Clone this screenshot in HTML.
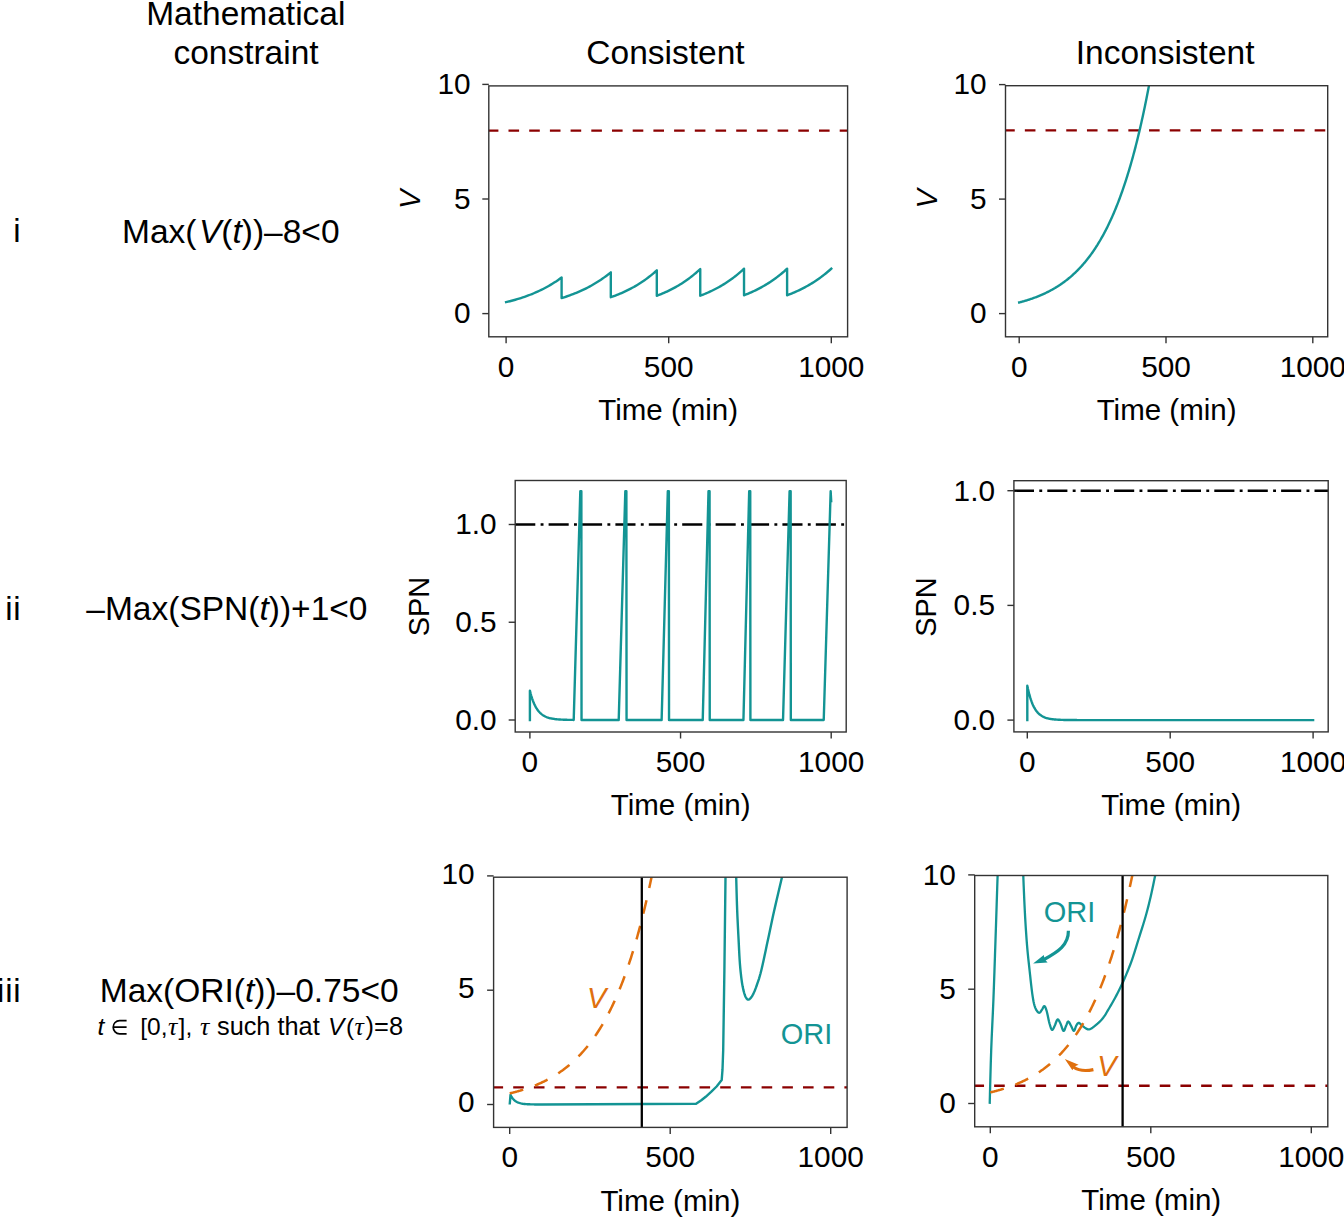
<!DOCTYPE html>
<html><head><meta charset="utf-8"><title>Figure</title>
<style>
html,body{margin:0;padding:0;background:#fff;}
body{width:1344px;height:1217px;overflow:hidden;font-family:"Liberation Sans", sans-serif;}
svg{display:block;}
</style></head><body>
<svg width="1344" height="1217" viewBox="0 0 1344 1217" font-family="'Liberation Sans', sans-serif"><defs><clipPath id="cA"><rect x="488.8" y="85.9" width="358.8" height="250.9"/></clipPath><clipPath id="cB"><rect x="1005.5" y="85.7" width="322.2" height="251.1"/></clipPath><clipPath id="cC"><rect x="515.2" y="480.5" width="331" height="251.5"/></clipPath><clipPath id="cD"><rect x="1013.9" y="480.7" width="314.3" height="251.2"/></clipPath><clipPath id="cE"><rect x="493.6" y="877.2" width="353.5" height="250.2"/></clipPath><clipPath id="cF"><rect x="974.7" y="875.5" width="353.1" height="251.3"/></clipPath></defs><rect x="0" y="0" width="1344" height="1217" fill="#fff"/><text x="245.8" y="24.8" font-size="33.5" text-anchor="middle" fill="#000" >Mathematical</text>
<text x="246" y="64.2" font-size="33.5" text-anchor="middle" fill="#000" >constraint</text>
<text x="665.5" y="64.3" font-size="33.5" text-anchor="middle" fill="#000" >Consistent</text>
<text x="1165.1" y="64.4" font-size="33.5" text-anchor="middle" fill="#000" >Inconsistent</text>
<text x="20.6" y="242.4" font-size="33" text-anchor="end" fill="#000" >i</text>
<text x="21.4" y="620" font-size="33" text-anchor="end" fill="#000" letter-spacing="0.8">ii</text>
<text x="21.4" y="1001.5" font-size="33" text-anchor="end" fill="#000" letter-spacing="0.8">iii</text>
<text x="230.8" y="242.5" font-size="33.5" text-anchor="middle">Max(<tspan font-style="italic" dx="2.5">V</tspan>(<tspan font-style="italic">t</tspan>))–8&lt;0</text>
<text x="226.9" y="620" font-size="33.5" text-anchor="middle">–Max(SPN(<tspan font-style="italic">t</tspan>))+1&lt;0</text>
<text x="249.2" y="1001.5" font-size="33.5" text-anchor="middle">Max(ORI(<tspan font-style="italic">t</tspan>))–0.75&lt;0</text>
<text x="97.6" y="1034.8" font-size="24.5" font-style="italic">t</text>
<path d="M126.6,1020.6 H119.6 A6.4,6.6 0 0 0 119.6,1033.8 H126.6 M112.6,1027.2 H126.6" fill="none" stroke="#000" stroke-width="1.7"/>
<text x="140.3" y="1034.8" font-size="24.5">[0,</text>
<text x="168" y="1034.8" font-size="26" font-style="italic" font-family="Liberation Serif">τ</text>
<text x="178.6" y="1034.8" font-size="24.5">],</text>
<text x="199.9" y="1034.8" font-size="26" font-style="italic" font-family="Liberation Serif">τ</text>
<text x="217" y="1034.8" font-size="25.3">such that</text>
<text x="328" y="1034.8" font-size="24.5" font-style="italic">V</text>
<text x="346" y="1034.8" font-size="24.5">(</text>
<text x="354.4" y="1034.8" font-size="26" font-style="italic" font-family="Liberation Serif">τ</text>
<text x="365.6" y="1034.8" font-size="25.4">)=8</text>
<line x1="488.8" y1="130.64" x2="847.6" y2="130.64" stroke="#8b0000" stroke-width="2.3" stroke-dasharray="10.6 10.1" stroke-dashoffset="1.0"/>
<path d="M506.1,302.14 L507.95,301.69 L509.8,301.23 L511.65,300.75 L513.5,300.24 L515.35,299.72 L517.2,299.18 L519.05,298.62 L520.9,298.04 L522.75,297.43 L524.6,296.8 L526.45,296.14 L528.3,295.46 L530.16,294.75 L532.01,294.02 L533.86,293.25 L535.71,292.46 L537.56,291.64 L539.41,290.78 L541.26,289.89 L543.11,288.96 L544.96,288 L546.81,287 L548.66,285.97 L550.51,284.89 L552.36,283.77 L554.21,282.6 L556.06,281.4 L557.91,280.14 L559.76,278.83 L561.61,277.48 L561.61,298.08 L563.25,297.57 L564.89,297.04 L566.53,296.49 L568.17,295.92 L569.81,295.34 L571.45,294.73 L573.09,294.11 L574.73,293.46 L576.37,292.79 L578.01,292.1 L579.65,291.39 L581.29,290.66 L582.93,289.9 L584.57,289.11 L586.21,288.3 L587.85,287.46 L589.49,286.59 L591.13,285.7 L592.77,284.77 L594.41,283.82 L596.05,282.83 L597.69,281.81 L599.33,280.76 L600.97,279.67 L602.61,278.55 L604.25,277.39 L605.89,276.19 L607.53,274.95 L609.17,273.67 L610.81,272.34 L610.81,297.19 L612.35,296.65 L613.88,296.09 L615.41,295.52 L616.95,294.93 L618.48,294.31 L620.01,293.68 L621.54,293.03 L623.08,292.35 L624.61,291.66 L626.14,290.94 L627.67,290.19 L629.21,289.42 L630.74,288.63 L632.27,287.81 L633.81,286.97 L635.34,286.09 L636.87,285.19 L638.4,284.26 L639.94,283.29 L641.47,282.3 L643,281.27 L644.54,280.21 L646.07,279.12 L647.6,277.99 L649.13,276.82 L650.67,275.61 L652.2,274.36 L653.73,273.08 L655.26,271.75 L656.8,270.37 L656.8,295.79 L658.25,295.24 L659.69,294.67 L661.14,294.08 L662.59,293.48 L664.04,292.85 L665.49,292.21 L666.94,291.54 L668.38,290.86 L669.83,290.15 L671.28,289.43 L672.73,288.68 L674.18,287.9 L675.62,287.11 L677.07,286.29 L678.52,285.44 L679.97,284.56 L681.42,283.66 L682.87,282.73 L684.31,281.78 L685.76,280.79 L687.21,279.77 L688.66,278.72 L690.11,277.64 L691.56,276.53 L693,275.38 L694.45,274.19 L695.9,272.97 L697.35,271.71 L698.8,270.41 L700.24,269.07 L700.24,295.72 L701.7,295.16 L703.16,294.59 L704.62,294 L706.08,293.39 L707.54,292.75 L709,292.1 L710.46,291.43 L711.92,290.74 L713.38,290.03 L714.84,289.29 L716.29,288.54 L717.75,287.76 L719.21,286.95 L720.67,286.12 L722.13,285.26 L723.59,284.38 L725.05,283.47 L726.51,282.53 L727.97,281.56 L729.43,280.56 L730.88,279.53 L732.34,278.46 L733.8,277.37 L735.26,276.24 L736.72,275.07 L738.18,273.87 L739.64,272.63 L741.1,271.35 L742.56,270.04 L744.02,268.68 L744.02,295.26 L745.45,294.71 L746.89,294.14 L748.33,293.55 L749.76,292.94 L751.2,292.31 L752.63,291.66 L754.07,291 L755.51,290.31 L756.94,289.61 L758.38,288.88 L759.82,288.13 L761.25,287.36 L762.69,286.56 L764.12,285.74 L765.56,284.9 L767,284.03 L768.43,283.13 L769.87,282.21 L771.31,281.26 L772.74,280.28 L774.18,279.27 L775.61,278.23 L777.05,277.15 L778.49,276.05 L779.92,274.91 L781.36,273.74 L782.8,272.53 L784.23,271.28 L785.67,270 L787.11,268.68 L787.11,295.26 L788.58,294.71 L790.05,294.14 L791.52,293.55 L793,292.94 L794.47,292.31 L795.94,291.66 L797.42,291 L798.89,290.31 L800.36,289.61 L801.84,288.88 L803.31,288.13 L804.78,287.36 L806.26,286.56 L807.73,285.74 L809.2,284.9 L810.68,284.03 L812.15,283.13 L813.62,282.21 L815.1,281.26 L816.57,280.28 L818.04,279.27 L819.51,278.23 L820.99,277.15 L822.46,276.05 L823.93,274.91 L825.41,273.74 L826.88,272.53 L828.35,271.28 L829.83,270 L831.3,268.68" fill="none" stroke="#139494" stroke-width="2.4" stroke-linejoin="round" stroke-linecap="square" clip-path="url(#cA)" />
<rect x="488.8" y="85.9" width="358.8" height="250.9" fill="none" stroke="#333333" stroke-width="1.4"/>
<line x1="506.1" y1="336.8" x2="506.1" y2="343.3" stroke="#333333" stroke-width="1.4" />
<text x="506.1" y="376.8" font-size="29.8" text-anchor="middle" fill="#000" >0</text>
<line x1="668.7" y1="336.8" x2="668.7" y2="343.3" stroke="#333333" stroke-width="1.4" />
<text x="668.7" y="376.8" font-size="29.8" text-anchor="middle" fill="#000" >500</text>
<line x1="831.3" y1="336.8" x2="831.3" y2="343.3" stroke="#333333" stroke-width="1.4" />
<text x="831.3" y="376.8" font-size="29.8" text-anchor="middle" fill="#000" >1000</text>
<line x1="482.3" y1="313.6" x2="488.8" y2="313.6" stroke="#333333" stroke-width="1.4" />
<text x="470.6" y="323.4" font-size="29.8" text-anchor="end" fill="#000" >0</text>
<line x1="482.3" y1="199" x2="488.8" y2="199" stroke="#333333" stroke-width="1.4" />
<text x="470.6" y="208.8" font-size="29.8" text-anchor="end" fill="#000" >5</text>
<line x1="482.3" y1="84.4" x2="488.8" y2="84.4" stroke="#333333" stroke-width="1.4" />
<text x="470.6" y="94.2" font-size="29.8" text-anchor="end" fill="#000" >10</text>
<text x="668.2" y="420.2" font-size="29.5" text-anchor="middle" fill="#000" >Time (min)</text>
<text x="419.8" y="199.3" font-size="29" text-anchor="middle" fill="#000" font-style="italic" transform="rotate(-90 419.8 199.3)">V</text>
<line x1="1005.5" y1="130.4" x2="1327.7" y2="130.4" stroke="#8b0000" stroke-width="2.3" stroke-dasharray="10.6 10.1" stroke-dashoffset="1.35"/>
<path d="M1019.2,302.47 L1019.79,302.32 L1020.37,302.16 L1020.96,302 L1021.55,301.85 L1022.14,301.68 L1022.72,301.52 L1023.31,301.35 L1023.9,301.19 L1024.48,301.01 L1025.07,300.84 L1025.66,300.67 L1026.25,300.49 L1026.83,300.31 L1027.42,300.12 L1028.01,299.94 L1028.6,299.75 L1029.18,299.56 L1029.77,299.37 L1030.36,299.17 L1030.94,298.97 L1031.53,298.77 L1032.12,298.57 L1032.71,298.36 L1033.29,298.15 L1033.88,297.94 L1034.47,297.72 L1035.05,297.5 L1035.64,297.28 L1036.23,297.06 L1036.82,296.83 L1037.4,296.6 L1037.99,296.37 L1038.58,296.13 L1039.16,295.89 L1039.75,295.65 L1040.34,295.4 L1040.93,295.15 L1041.51,294.89 L1042.1,294.64 L1042.69,294.38 L1043.28,294.11 L1043.86,293.84 L1044.45,293.57 L1045.04,293.3 L1045.62,293.02 L1046.21,292.73 L1046.8,292.45 L1047.39,292.16 L1047.97,291.86 L1048.56,291.56 L1049.15,291.26 L1049.73,290.95 L1050.32,290.64 L1050.91,290.32 L1051.5,290 L1052.08,289.68 L1052.67,289.35 L1053.26,289.02 L1053.84,288.68 L1054.43,288.33 L1055.02,287.99 L1055.61,287.63 L1056.19,287.28 L1056.78,286.92 L1057.37,286.55 L1057.96,286.18 L1058.54,285.8 L1059.13,285.42 L1059.72,285.03 L1060.3,284.64 L1060.89,284.24 L1061.48,283.83 L1062.07,283.42 L1062.65,283.01 L1063.24,282.59 L1063.83,282.16 L1064.41,281.73 L1065,281.29 L1065.59,280.85 L1066.18,280.39 L1066.76,279.94 L1067.35,279.47 L1067.94,279.01 L1068.52,278.53 L1069.11,278.05 L1069.7,277.56 L1070.29,277.06 L1070.87,276.56 L1071.46,276.05 L1072.05,275.53 L1072.64,275.01 L1073.22,274.48 L1073.81,273.94 L1074.4,273.39 L1074.98,272.84 L1075.57,272.28 L1076.16,271.71 L1076.75,271.14 L1077.33,270.55 L1077.92,269.96 L1078.51,269.36 L1079.09,268.75 L1079.68,268.13 L1080.27,267.51 L1080.86,266.87 L1081.44,266.23 L1082.03,265.58 L1082.62,264.92 L1083.2,264.25 L1083.79,263.57 L1084.38,262.88 L1084.97,262.18 L1085.55,261.48 L1086.14,260.76 L1086.73,260.03 L1087.32,259.3 L1087.9,258.55 L1088.49,257.79 L1089.08,257.02 L1089.66,256.24 L1090.25,255.46 L1090.84,254.66 L1091.43,253.84 L1092.01,253.02 L1092.6,252.19 L1093.19,251.34 L1093.77,250.49 L1094.36,249.62 L1094.95,248.74 L1095.54,247.85 L1096.12,246.94 L1096.71,246.02 L1097.3,245.1 L1097.88,244.15 L1098.47,243.2 L1099.06,242.23 L1099.65,241.25 L1100.23,240.25 L1100.82,239.24 L1101.41,238.22 L1102,237.18 L1102.58,236.13 L1103.17,235.07 L1103.76,233.98 L1104.34,232.89 L1104.93,231.78 L1105.52,230.65 L1106.11,229.51 L1106.69,228.36 L1107.28,227.18 L1107.87,225.99 L1108.45,224.79 L1109.04,223.57 L1109.63,222.33 L1110.22,221.07 L1110.8,219.8 L1111.39,218.51 L1111.98,217.2 L1112.56,215.87 L1113.15,214.53 L1113.74,213.17 L1114.33,211.78 L1114.91,210.38 L1115.5,208.96 L1116.09,207.52 L1116.68,206.07 L1117.26,204.59 L1117.85,203.09 L1118.44,201.57 L1119.02,200.02 L1119.61,198.46 L1120.2,196.88 L1120.79,195.27 L1121.37,193.64 L1121.96,191.99 L1122.55,190.32 L1123.13,188.62 L1123.72,186.91 L1124.31,185.16 L1124.9,183.39 L1125.48,181.6 L1126.07,179.79 L1126.66,177.95 L1127.24,176.08 L1127.83,174.19 L1128.42,172.27 L1129.01,170.33 L1129.59,168.35 L1130.18,166.36 L1130.77,164.33 L1131.36,162.28 L1131.94,160.2 L1132.53,158.08 L1133.12,155.95 L1133.7,153.78 L1134.29,151.58 L1134.88,149.35 L1135.47,147.09 L1136.05,144.8 L1136.64,142.48 L1137.23,140.12 L1137.81,137.73 L1138.4,135.32 L1138.99,132.86 L1139.58,130.38 L1140.16,127.86 L1140.75,125.3 L1141.34,122.71 L1141.92,120.08 L1142.51,117.42 L1143.1,114.72 L1143.69,111.99 L1144.27,109.21 L1144.86,106.4 L1145.45,103.55 L1146.04,100.66 L1146.62,97.73 L1147.21,94.76 L1147.8,91.75 L1148.38,88.7 L1148.97,85.6 L1149.56,82.47 L1150.15,79.29 L1150.73,76.06 L1151.32,72.79 L1151.91,69.48 L1152.49,66.12 L1153.08,62.72 L1153.67,59.27 L1154.26,55.77 L1154.84,52.22 L1155.43,48.62 L1156.02,44.98 L1156.6,41.28 L1157.19,37.54 L1157.78,33.74 L1158.37,29.89 L1158.95,25.99 L1159.54,22.03" fill="none" stroke="#139494" stroke-width="2.4" stroke-linejoin="round" stroke-linecap="square" clip-path="url(#cB)" />
<rect x="1005.5" y="85.7" width="322.2" height="251.1" fill="none" stroke="#333333" stroke-width="1.4"/>
<line x1="1019.2" y1="336.8" x2="1019.2" y2="343.3" stroke="#333333" stroke-width="1.4" />
<text x="1019.2" y="376.8" font-size="29.8" text-anchor="middle" fill="#000" >0</text>
<line x1="1166" y1="336.8" x2="1166" y2="343.3" stroke="#333333" stroke-width="1.4" />
<text x="1166" y="376.8" font-size="29.8" text-anchor="middle" fill="#000" >500</text>
<line x1="1312.8" y1="336.8" x2="1312.8" y2="343.3" stroke="#333333" stroke-width="1.4" />
<text x="1312.8" y="376.8" font-size="29.8" text-anchor="middle" fill="#000" >1000</text>
<line x1="999" y1="313.6" x2="1005.5" y2="313.6" stroke="#333333" stroke-width="1.4" />
<text x="986.6" y="323.4" font-size="29.8" text-anchor="end" fill="#000" >0</text>
<line x1="999" y1="199.1" x2="1005.5" y2="199.1" stroke="#333333" stroke-width="1.4" />
<text x="986.6" y="208.9" font-size="29.8" text-anchor="end" fill="#000" >5</text>
<line x1="999" y1="84.6" x2="1005.5" y2="84.6" stroke="#333333" stroke-width="1.4" />
<text x="986.6" y="94.4" font-size="29.8" text-anchor="end" fill="#000" >10</text>
<text x="1166.6" y="420.2" font-size="29.5" text-anchor="middle" fill="#000" >Time (min)</text>
<text x="937" y="198.8" font-size="29" text-anchor="middle" fill="#000" font-style="italic" transform="rotate(-90 937 198.8)">V</text>
<line x1="515.2" y1="524.5" x2="846.2" y2="524.5" stroke="#000" stroke-width="2.4" stroke-dasharray="20.1 5.3 2.9 5.1" stroke-dashoffset="0"/>
<path d="M529.9,720 L529.9,690.67 L530.62,693.47 L531.35,695.99 L532.07,698.28 L532.79,700.34 L533.52,702.21 L534.24,703.91 L534.96,705.44 L535.68,706.82 L536.41,708.08 L537.13,709.21 L537.85,710.24 L538.58,711.17 L539.3,712.01 L540.02,712.77 L540.75,713.46 L541.47,714.08 L542.19,714.64 L542.92,715.15 L543.64,715.61 L544.36,716.03 L545.09,716.41 L545.81,716.75 L546.53,717.06 L547.25,717.34 L547.98,717.59 L548.7,717.82 L549.42,718.03 L550.15,718.22 L550.87,718.39 L551.59,718.54 L552.32,718.68 L553.04,718.8 L553.76,718.92 L554.49,719.02 L555.21,719.11 L555.93,719.2 L556.66,719.27 L557.38,719.34 L558.1,719.41 L558.82,719.46 L559.55,719.51 L560.27,719.56 L560.99,719.6 L561.72,719.64 L562.44,719.67 L563.16,719.71 L563.89,719.73 L564.61,719.76 L565.33,719.78 L566.06,719.8 L566.78,719.82 L567.5,719.84 L568.23,719.85 L568.95,719.87 L569.67,719.88 L570.39,719.89 L571.12,719.9 L571.84,719.91 L572.56,719.92 L573.71,720 L580.31,491.26 L581.36,491.26 L581.54,720 L618.72,720 L625.32,491.26 L626.38,491.26 L626.56,720 L661.63,720 L667.81,491.26 L668.86,491.26 L669.04,720 L702.73,720 L708.51,491.26 L709.57,491.26 L709.75,720 L743.43,720 L749.19,491.26 L750.24,491.26 L750.42,720 L783.02,720 L789.59,491.26 L790.65,491.26 L790.83,720 L823.73,720 L830.66,491.26 L831.2,501.04" fill="none" stroke="#139494" stroke-width="2.4" stroke-linejoin="round" stroke-linecap="square" clip-path="url(#cC)" />
<rect x="515.2" y="480.5" width="331" height="251.5" fill="none" stroke="#333333" stroke-width="1.4"/>
<line x1="529.9" y1="732" x2="529.9" y2="738.5" stroke="#333333" stroke-width="1.4" />
<text x="529.9" y="772" font-size="29.8" text-anchor="middle" fill="#000" >0</text>
<line x1="680.55" y1="732" x2="680.55" y2="738.5" stroke="#333333" stroke-width="1.4" />
<text x="680.55" y="772" font-size="29.8" text-anchor="middle" fill="#000" >500</text>
<line x1="831.2" y1="732" x2="831.2" y2="738.5" stroke="#333333" stroke-width="1.4" />
<text x="831.2" y="772" font-size="29.8" text-anchor="middle" fill="#000" >1000</text>
<line x1="508.7" y1="720" x2="515.2" y2="720" stroke="#333333" stroke-width="1.4" />
<text x="496.6" y="729.8" font-size="29.8" text-anchor="end" fill="#000" >0.0</text>
<line x1="508.7" y1="622.25" x2="515.2" y2="622.25" stroke="#333333" stroke-width="1.4" />
<text x="496.6" y="632.05" font-size="29.8" text-anchor="end" fill="#000" >0.5</text>
<line x1="508.7" y1="524.5" x2="515.2" y2="524.5" stroke="#333333" stroke-width="1.4" />
<text x="496.6" y="534.3" font-size="29.8" text-anchor="end" fill="#000" >1.0</text>
<text x="680.7" y="815.4" font-size="29.5" text-anchor="middle" fill="#000" >Time (min)</text>
<text x="428.9" y="606.5" font-size="29" text-anchor="middle" fill="#000" transform="rotate(-90 428.9 606.5)">SPN</text>
<line x1="1013.9" y1="490.7" x2="1328.2" y2="490.7" stroke="#000" stroke-width="2.4" stroke-dasharray="20.1 5.3 2.9 5.1" stroke-dashoffset="0"/>
<path d="M1027.3,720.1 L1027.3,685.69 L1028.01,689.09 L1028.73,692.16 L1029.44,694.93 L1030.16,697.42 L1030.87,699.66 L1031.59,701.68 L1032.3,703.5 L1033.02,705.15 L1033.73,706.62 L1034.44,707.96 L1035.16,709.16 L1035.87,710.24 L1036.59,711.22 L1037.3,712.1 L1038.02,712.89 L1038.73,713.6 L1039.45,714.24 L1040.16,714.82 L1040.88,715.35 L1041.59,715.82 L1042.3,716.24 L1043.02,716.62 L1043.73,716.97 L1044.45,717.28 L1045.16,717.55 L1045.88,717.81 L1046.59,718.03 L1047.31,718.24 L1048.02,718.42 L1048.73,718.59 L1049.45,718.74 L1050.16,718.87 L1050.88,718.99 L1051.59,719.1 L1052.31,719.2 L1053.02,719.29 L1053.74,719.37 L1054.45,719.44 L1055.17,719.51 L1055.88,719.57 L1056.59,719.62 L1057.31,719.67 L1058.02,719.71 L1058.74,719.75 L1059.45,719.78 L1060.17,719.81 L1060.88,719.84 L1061.6,719.87 L1062.31,719.89 L1063.02,719.91 L1063.74,719.93 L1064.45,719.95 L1065.17,719.96 L1065.88,719.98 L1066.6,719.99 L1067.31,720 L1068.03,720.01 L1068.74,720.02 L1069.46,720.03 L1070.17,720.03 L1070.88,720.04 L1071.6,720.05 L1072.31,720.05 L1073.03,720.06 L1073.74,720.06 L1074.46,720.06 L1075.17,720.07 L1075.89,720.07 L1076.6,720.07 L1077.32,720.08 L1078.03,720.08 L1078.74,720.08 L1079.46,720.08 L1080.17,720.08 L1080.89,720.09 L1081.6,720.09 L1082.32,720.09 L1083.03,720.09 L1083.75,720.09 L1084.46,720.09 L1085.17,720.09 L1085.89,720.09 L1086.6,720.09 L1087.32,720.09 L1088.03,720.1 L1088.75,720.1 L1089.46,720.1 L1090.18,720.1 L1090.89,720.1 L1091.61,720.1 L1092.32,720.1 L1093.03,720.1 L1093.75,720.1 L1094.46,720.1 L1095.18,720.1 L1095.89,720.1 L1096.61,720.1 L1097.32,720.1 L1098.04,720.1 L1098.75,720.1 L1099.46,720.1 L1100.18,720.1 L1100.89,720.1 L1101.61,720.1 L1102.32,720.1 L1103.04,720.1 L1103.75,720.1 L1104.47,720.1 L1105.18,720.1 L1105.89,720.1 L1106.61,720.1 L1107.32,720.1 L1108.04,720.1 L1108.75,720.1 L1109.47,720.1 L1110.18,720.1 L1110.9,720.1 L1111.61,720.1 L1112.33,720.1 L1113.04,720.1 L1113.75,720.1 L1114.47,720.1 L1115.18,720.1 L1115.9,720.1 L1116.61,720.1 L1117.33,720.1 L1118.04,720.1 L1118.76,720.1 L1119.47,720.1 L1120.18,720.1 L1120.9,720.1 L1121.61,720.1 L1122.33,720.1 L1123.04,720.1 L1123.76,720.1 L1124.47,720.1 L1125.19,720.1 L1125.9,720.1 L1126.62,720.1 L1127.33,720.1 L1128.04,720.1 L1128.76,720.1 L1129.47,720.1 L1130.19,720.1 L1130.9,720.1 L1131.62,720.1 L1132.33,720.1 L1133.05,720.1 L1133.76,720.1 L1134.47,720.1 L1135.19,720.1 L1135.9,720.1 L1136.62,720.1 L1137.33,720.1 L1138.05,720.1 L1138.76,720.1 L1139.48,720.1 L1140.19,720.1 L1140.91,720.1 L1141.62,720.1 L1142.33,720.1 L1143.05,720.1 L1143.76,720.1 L1144.48,720.1 L1145.19,720.1 L1145.91,720.1 L1146.62,720.1 L1147.34,720.1 L1148.05,720.1 L1148.76,720.1 L1149.48,720.1 L1150.19,720.1 L1150.91,720.1 L1151.62,720.1 L1152.34,720.1 L1153.05,720.1 L1153.77,720.1 L1154.48,720.1 L1155.2,720.1 L1155.91,720.1 L1156.62,720.1 L1157.34,720.1 L1158.05,720.1 L1158.77,720.1 L1159.48,720.1 L1160.2,720.1 L1160.91,720.1 L1161.63,720.1 L1162.34,720.1 L1163.05,720.1 L1163.77,720.1 L1164.48,720.1 L1165.2,720.1 L1165.91,720.1 L1166.63,720.1 L1167.34,720.1 L1168.06,720.1 L1168.77,720.1 L1169.49,720.1 L1313.1,720.1" fill="none" stroke="#139494" stroke-width="2.4" stroke-linejoin="round" stroke-linecap="square" clip-path="url(#cD)" />
<rect x="1013.9" y="480.7" width="314.3" height="251.2" fill="none" stroke="#333333" stroke-width="1.4"/>
<line x1="1027.3" y1="731.9" x2="1027.3" y2="738.4" stroke="#333333" stroke-width="1.4" />
<text x="1027.3" y="771.9" font-size="29.8" text-anchor="middle" fill="#000" >0</text>
<line x1="1170.2" y1="731.9" x2="1170.2" y2="738.4" stroke="#333333" stroke-width="1.4" />
<text x="1170.2" y="771.9" font-size="29.8" text-anchor="middle" fill="#000" >500</text>
<line x1="1313.1" y1="731.9" x2="1313.1" y2="738.4" stroke="#333333" stroke-width="1.4" />
<text x="1313.1" y="771.9" font-size="29.8" text-anchor="middle" fill="#000" >1000</text>
<line x1="1007.4" y1="720.1" x2="1013.9" y2="720.1" stroke="#333333" stroke-width="1.4" />
<text x="995" y="729.9" font-size="29.8" text-anchor="end" fill="#000" >0.0</text>
<line x1="1007.4" y1="605.4" x2="1013.9" y2="605.4" stroke="#333333" stroke-width="1.4" />
<text x="995" y="615.2" font-size="29.8" text-anchor="end" fill="#000" >0.5</text>
<line x1="1007.4" y1="490.7" x2="1013.9" y2="490.7" stroke="#333333" stroke-width="1.4" />
<text x="995" y="500.5" font-size="29.8" text-anchor="end" fill="#000" >1.0</text>
<text x="1171.05" y="815.3" font-size="29.5" text-anchor="middle" fill="#000" >Time (min)</text>
<text x="936.3" y="607" font-size="29" text-anchor="middle" fill="#000" transform="rotate(-90 936.3 607)">SPN</text>
<line x1="493.6" y1="1087.36" x2="847.1" y2="1087.36" stroke="#8b0000" stroke-width="2.3" stroke-dasharray="10.6 10.1" stroke-dashoffset="1.1"/>
<path d="M509.7,1104.5 L510.5,1094.9 L511.31,1096.37 L512.11,1097.62 L512.91,1098.68 L513.71,1099.57 L514.51,1100.33 L515.32,1100.97 L516.12,1101.51 L516.92,1101.97 L517.73,1102.36 L518.53,1102.69 L519.33,1102.96 L520.13,1103.2 L520.93,1103.4 L521.74,1103.57 L522.54,1103.71 L523.34,1103.83 L524.14,1103.94 L524.95,1104.02 L525.75,1104.1 L526.55,1104.16 L527.36,1104.21 L528.16,1104.25 L528.96,1104.29 L529.76,1104.32 L530.56,1104.35 L531.37,1104.37 L532.17,1104.39 L532.97,1104.41 L533.77,1104.42 L534.58,1104.44 L535.38,1104.45 L536.18,1104.45 L536.99,1104.46 L537.79,1104.47 L538.59,1104.47 L539.39,1104.48 L540.19,1104.48 L541,1104.48 L541.8,1104.49 L696.1,1103.75 L701.3,1100.3 L705.7,1096.8 L711.1,1091.9 L716.6,1086.5 L721.7,1080.1 L722.5,1069.7 L723.2,1050 L724.4,970 L725.5,877.4 L725.6,868" fill="none" stroke="#139494" stroke-width="2.4" stroke-linejoin="round" clip-path="url(#cE)" />
<path d="M736,868 L736.01,868.74 L736.02,869.54 L736.04,870.6 L736.07,872.13 L736.12,874.32 L736.2,877.4 L736.31,881.61 L736.45,886.83 L736.61,892.73 L736.79,898.96 L736.99,905.16 L737.2,911 L737.44,916.72 L737.72,922.64 L738.01,928.54 L738.3,934.2 L738.57,939.4 L738.8,943.9 L738.98,947.6 L739.13,950.65 L739.26,953.24 L739.38,955.54 L739.51,957.73 L739.65,960 L739.81,962.27 L739.96,964.38 L740.13,966.39 L740.3,968.34 L740.49,970.29 L740.7,972.3 L740.93,974.39 L741.17,976.52 L741.43,978.65 L741.71,980.74 L742,982.74 L742.3,984.6 L742.62,986.36 L742.97,988.04 L743.32,989.64 L743.69,991.13 L744.05,992.49 L744.4,993.7 L744.74,994.75 L745.09,995.66 L745.42,996.43 L745.76,997.1 L746.09,997.68 L746.4,998.2 L746.7,998.64 L746.98,998.99 L747.25,999.24 L747.52,999.43 L747.8,999.54 L748.1,999.6 L748.41,999.61 L748.71,999.56 L749.03,999.44 L749.36,999.25 L749.71,998.97 L750.1,998.6 L750.52,998.15 L750.97,997.64 L751.44,997.05 L751.94,996.34 L752.46,995.5 L753,994.5 L753.56,993.36 L754.14,992.1 L754.74,990.71 L755.36,989.16 L756.02,987.43 L756.7,985.5 L757.4,983.46 L758.13,981.35 L758.88,979.06 L759.66,976.48 L760.5,973.5 L761.4,970 L762.38,965.83 L763.44,961.04 L764.56,955.84 L765.69,950.46 L766.81,945.11 L767.9,940 L768.93,935.16 L769.93,930.43 L770.92,925.73 L771.93,920.97 L772.98,916.09 L774.1,911 L775.38,905.39 L776.8,899.24 L778.27,892.97 L779.68,886.98 L780.92,881.65 L781.9,877.4 L782.58,874.32 L783.04,872.13 L783.34,870.6 L783.53,869.54 L783.66,868.74 L783.8,868" fill="none" stroke="#139494" stroke-width="2.4" stroke-linejoin="round" clip-path="url(#cE)" />
<path d="M509.7,1093.39 L510.34,1093.24 L510.98,1093.08 L511.63,1092.93 L512.27,1092.77 L512.91,1092.6 L513.55,1092.44 L514.19,1092.27 L514.84,1092.11 L515.48,1091.94 L516.12,1091.76 L516.76,1091.59 L517.4,1091.41 L518.05,1091.23 L518.69,1091.05 L519.33,1090.86 L519.97,1090.68 L520.61,1090.48 L521.26,1090.29 L521.9,1090.1 L522.54,1089.9 L523.18,1089.7 L523.82,1089.49 L524.47,1089.29 L525.11,1089.08 L525.75,1088.87 L526.39,1088.65 L527.03,1088.43 L527.68,1088.21 L528.32,1087.99 L528.96,1087.76 L529.6,1087.53 L530.24,1087.3 L530.89,1087.06 L531.53,1086.82 L532.17,1086.58 L532.81,1086.33 L533.45,1086.08 L534.1,1085.83 L534.74,1085.57 L535.38,1085.31 L536.02,1085.05 L536.66,1084.78 L537.31,1084.51 L537.95,1084.23 L538.59,1083.95 L539.23,1083.67 L539.87,1083.38 L540.52,1083.09 L541.16,1082.8 L541.8,1082.5 L542.44,1082.2 L543.08,1081.89 L543.73,1081.58 L544.37,1081.26 L545.01,1080.94 L545.65,1080.62 L546.29,1080.29 L546.94,1079.96 L547.58,1079.62 L548.22,1079.28 L548.86,1078.93 L549.5,1078.58 L550.15,1078.22 L550.79,1077.86 L551.43,1077.5 L552.07,1077.12 L552.71,1076.75 L553.36,1076.37 L554,1075.98 L554.64,1075.59 L555.28,1075.19 L555.92,1074.79 L556.57,1074.38 L557.21,1073.96 L557.85,1073.54 L558.49,1073.12 L559.13,1072.68 L559.78,1072.25 L560.42,1071.8 L561.06,1071.35 L561.7,1070.9 L562.34,1070.43 L562.99,1069.97 L563.63,1069.49 L564.27,1069.01 L564.91,1068.52 L565.55,1068.03 L566.2,1067.52 L566.84,1067.02 L567.48,1066.5 L568.12,1065.98 L568.76,1065.45 L569.41,1064.91 L570.05,1064.36 L570.69,1063.81 L571.33,1063.25 L571.97,1062.69 L572.62,1062.11 L573.26,1061.53 L573.9,1060.94 L574.54,1060.34 L575.18,1059.73 L575.83,1059.11 L576.47,1058.49 L577.11,1057.86 L577.75,1057.21 L578.39,1056.56 L579.04,1055.9 L579.68,1055.23 L580.32,1054.56 L580.96,1053.87 L581.6,1053.17 L582.25,1052.47 L582.89,1051.75 L583.53,1051.03 L584.17,1050.29 L584.81,1049.54 L585.46,1048.79 L586.1,1048.02 L586.74,1047.24 L587.38,1046.46 L588.02,1045.66 L588.67,1044.85 L589.31,1044.03 L589.95,1043.2 L590.59,1042.35 L591.23,1041.5 L591.88,1040.63 L592.52,1039.75 L593.16,1038.86 L593.8,1037.96 L594.44,1037.04 L595.09,1036.11 L595.73,1035.17 L596.37,1034.22 L597.01,1033.25 L597.65,1032.27 L598.3,1031.28 L598.94,1030.27 L599.58,1029.25 L600.22,1028.22 L600.86,1027.17 L601.51,1026.1 L602.15,1025.02 L602.79,1023.93 L603.43,1022.82 L604.07,1021.7 L604.72,1020.56 L605.36,1019.4 L606,1018.23 L606.64,1017.05 L607.28,1015.84 L607.93,1014.62 L608.57,1013.39 L609.21,1012.13 L609.85,1010.86 L610.49,1009.57 L611.14,1008.27 L611.78,1006.94 L612.42,1005.6 L613.06,1004.24 L613.7,1002.86 L614.35,1001.46 L614.99,1000.05 L615.63,998.61 L616.27,997.15 L616.91,995.68 L617.56,994.18 L618.2,992.66 L618.84,991.12 L619.48,989.56 L620.12,987.98 L620.77,986.38 L621.41,984.75 L622.05,983.11 L622.69,981.44 L623.33,979.74 L623.98,978.03 L624.62,976.29 L625.26,974.52 L625.9,972.73 L626.54,970.92 L627.19,969.08 L627.83,967.22 L628.47,965.33 L629.11,963.42 L629.75,961.48 L630.4,959.51 L631.04,957.51 L631.68,955.49 L632.32,953.44 L632.96,951.36 L633.61,949.26 L634.25,947.12 L634.89,944.96 L635.53,942.76 L636.17,940.54 L636.82,938.28 L637.46,935.99 L638.1,933.67 L638.74,931.32 L639.38,928.94 L640.03,926.53 L640.67,924.08 L641.31,921.6 L641.95,919.08 L642.59,916.53 L643.24,913.94 L643.88,911.32 L644.52,908.66 L645.16,905.97 L645.8,903.24 L646.45,900.47 L647.09,897.66 L647.73,894.82 L648.37,891.93 L649.01,889.01 L649.66,886.04 L650.3,883.04 L650.94,879.99 L651.58,876.9 L652.22,873.77 L652.87,870.6 L653.51,867.38 L654.15,864.11 L654.79,860.81 L655.43,857.46 L656.08,854.06 L656.72,850.61 L657.36,847.12 L658,843.58 L658.64,839.99 L659.29,836.35 L659.93,832.66 L660.57,828.92 L661.21,825.13 L661.85,821.28 L662.5,817.39 L663.14,813.44" fill="none" stroke="#e0700e" stroke-width="2.5" stroke-linejoin="round" stroke-linecap="butt" clip-path="url(#cE)" stroke-dasharray="14 12.4"/>
<line x1="641.8" y1="877.2" x2="641.8" y2="1127.4" stroke="#000" stroke-width="2.3" />
<rect x="493.6" y="877.2" width="353.5" height="250.2" fill="none" stroke="#333333" stroke-width="1.4"/>
<line x1="509.7" y1="1127.4" x2="509.7" y2="1133.9" stroke="#333333" stroke-width="1.4" />
<text x="509.7" y="1167.4" font-size="29.8" text-anchor="middle" fill="#000" >0</text>
<line x1="670.2" y1="1127.4" x2="670.2" y2="1133.9" stroke="#333333" stroke-width="1.4" />
<text x="670.2" y="1167.4" font-size="29.8" text-anchor="middle" fill="#000" >500</text>
<line x1="830.7" y1="1127.4" x2="830.7" y2="1133.9" stroke="#333333" stroke-width="1.4" />
<text x="830.7" y="1167.4" font-size="29.8" text-anchor="middle" fill="#000" >1000</text>
<line x1="487.1" y1="1104.5" x2="493.6" y2="1104.5" stroke="#333333" stroke-width="1.4" />
<text x="474.6" y="1112.4" font-size="29.8" text-anchor="end" fill="#000" >0</text>
<line x1="487.1" y1="990.2" x2="493.6" y2="990.2" stroke="#333333" stroke-width="1.4" />
<text x="474.6" y="998.1" font-size="29.8" text-anchor="end" fill="#000" >5</text>
<line x1="487.1" y1="875.9" x2="493.6" y2="875.9" stroke="#333333" stroke-width="1.4" />
<text x="474.6" y="883.8" font-size="29.8" text-anchor="end" fill="#000" >10</text>
<text x="670.35" y="1210.8" font-size="29.5" text-anchor="middle" fill="#000" >Time (min)</text>
<text x="596.6" y="1008" font-size="29" text-anchor="middle" fill="#e0700e" font-style="italic" >V</text>
<text x="806.5" y="1044.2" font-size="29" text-anchor="middle" fill="#139494" >ORI</text>
<line x1="974.7" y1="1085.76" x2="1327.8" y2="1085.76" stroke="#8b0000" stroke-width="2.3" stroke-dasharray="10.6 10.1" stroke-dashoffset="1.26"/>
<path d="M989.7,1103.9 L989.95,1094.12 L990.31,1080.08 L990.74,1064.46 L991.2,1050 L991.7,1037.46 L992.26,1025.38 L992.84,1013.11 L993.4,1000 L993.93,985.8 L994.46,970.88 L994.98,955.52 L995.5,940 L996.07,922.95 L996.66,904.69 L997.2,888.07 L997.6,875.9 L997.81,869.79 L997.88,867.94 L997.89,868.1 L997.9,868" fill="none" stroke="#139494" stroke-width="2.3" stroke-linejoin="round" clip-path="url(#cF)" />
<path d="M1023.2,868 L1023.19,868.52 L1023.17,868.98 L1023.15,869.65 L1023.15,870.83 L1023.2,872.82 L1023.3,875.9 L1023.47,880.42 L1023.7,886.2 L1023.97,892.79 L1024.27,899.71 L1024.59,906.5 L1024.9,912.7 L1025.21,918.38 L1025.54,923.95 L1025.88,929.38 L1026.24,934.67 L1026.61,939.82 L1027,944.8 L1027.41,949.58 L1027.84,954.16 L1028.29,958.58 L1028.76,962.91 L1029.23,967.2 L1029.7,971.5 L1030.19,975.95 L1030.69,980.52 L1031.2,985.06 L1031.71,989.38 L1032.21,993.32 L1032.7,996.7 L1033.16,999.48 L1033.59,1001.77 L1034.01,1003.68 L1034.44,1005.31 L1034.9,1006.75 L1035.4,1008.1 L1035.97,1009.36 L1036.59,1010.46 L1037.23,1011.37 L1037.88,1012.07 L1038.51,1012.56 L1039.1,1012.8 L1039.65,1012.71 L1040.18,1012.3 L1040.69,1011.66 L1041.18,1010.9 L1041.65,1010.15 L1042.1,1009.5 L1042.52,1008.84 L1042.91,1008.05 L1043.29,1007.26 L1043.65,1006.59 L1044.02,1006.16 L1044.4,1006.1 L1044.79,1006.41 L1045.18,1007 L1045.58,1007.84 L1045.97,1008.89 L1046.38,1010.12 L1046.8,1011.5 L1047.23,1013.18 L1047.68,1015.22 L1048.14,1017.44 L1048.6,1019.67 L1049.05,1021.75 L1049.5,1023.5 L1049.94,1025.02 L1050.37,1026.45 L1050.8,1027.72 L1051.23,1028.77 L1051.66,1029.52 L1052.1,1029.9 L1052.54,1029.81 L1052.99,1029.29 L1053.44,1028.48 L1053.9,1027.49 L1054.35,1026.45 L1054.8,1025.5 L1055.25,1024.48 L1055.7,1023.27 L1056.15,1022.01 L1056.6,1020.86 L1057.05,1019.97 L1057.5,1019.5 L1057.94,1019.47 L1058.38,1019.77 L1058.81,1020.33 L1059.26,1021.08 L1059.72,1021.96 L1060.2,1022.9 L1060.72,1024.12 L1061.28,1025.72 L1061.85,1027.45 L1062.42,1029.06 L1062.98,1030.29 L1063.5,1030.9 L1063.99,1030.76 L1064.47,1030.04 L1064.93,1028.95 L1065.37,1027.69 L1065.8,1026.47 L1066.2,1025.5 L1066.57,1024.66 L1066.89,1023.77 L1067.2,1022.91 L1067.51,1022.19 L1067.83,1021.69 L1068.2,1021.5 L1068.61,1021.69 L1069.04,1022.19 L1069.49,1022.91 L1069.95,1023.77 L1070.42,1024.66 L1070.9,1025.5 L1071.39,1026.44 L1071.9,1027.6 L1072.42,1028.79 L1072.93,1029.85 L1073.43,1030.61 L1073.9,1030.9 L1074.33,1030.59 L1074.74,1029.8 L1075.12,1028.7 L1075.51,1027.49 L1075.9,1026.36 L1076.3,1025.5 L1076.71,1024.84 L1077.1,1024.21 L1077.5,1023.66 L1077.92,1023.23 L1078.38,1022.96 L1078.9,1022.9 L1079.46,1023.11 L1080.05,1023.57 L1080.68,1024.19 L1081.36,1024.89 L1082.1,1025.59 L1082.9,1026.2 L1083.78,1026.83 L1084.73,1027.57 L1085.74,1028.31 L1086.79,1028.93 L1087.88,1029.33 L1089,1029.4 L1090.17,1029.08 L1091.4,1028.46 L1092.67,1027.61 L1093.94,1026.63 L1095.2,1025.6 L1096.4,1024.6 L1097.56,1023.63 L1098.69,1022.62 L1099.81,1021.56 L1100.9,1020.44 L1101.96,1019.26 L1103,1018 L1103.99,1016.67 L1104.93,1015.27 L1105.85,1013.81 L1106.77,1012.27 L1107.71,1010.67 L1108.7,1009 L1109.75,1007.25 L1110.83,1005.41 L1111.94,1003.51 L1113.07,1001.55 L1114.19,999.54 L1115.3,997.5 L1116.41,995.4 L1117.53,993.24 L1118.66,991.03 L1119.77,988.79 L1120.85,986.56 L1121.9,984.35 L1122.91,982.16 L1123.89,979.96 L1124.85,977.77 L1125.79,975.58 L1126.7,973.39 L1127.6,971.2 L1128.47,969.07 L1129.29,967.01 L1130.1,964.96 L1130.91,962.84 L1131.73,960.57 L1132.6,958.1 L1133.49,955.44 L1134.39,952.64 L1135.31,949.7 L1136.26,946.62 L1137.25,943.39 L1138.3,940 L1139.45,936.35 L1140.7,932.42 L1141.99,928.34 L1143.28,924.24 L1144.5,920.25 L1145.6,916.5 L1146.57,913.05 L1147.45,909.8 L1148.26,906.66 L1149.04,903.54 L1149.81,900.35 L1150.6,897 L1151.44,893.3 L1152.3,889.3 L1153.16,885.22 L1153.97,881.31 L1154.69,877.79 L1155.3,874.9 L1155.78,872.67 L1156.15,870.92 L1156.44,869.57 L1156.67,868.52 L1156.85,867.7 L1157,867" fill="none" stroke="#139494" stroke-width="2.3" stroke-linejoin="round" clip-path="url(#cF)" />
<path d="M990.3,1092.39 L990.94,1092.24 L991.58,1092.08 L992.23,1091.93 L992.87,1091.77 L993.51,1091.6 L994.15,1091.44 L994.79,1091.27 L995.44,1091.11 L996.08,1090.94 L996.72,1090.76 L997.36,1090.59 L998,1090.41 L998.65,1090.23 L999.29,1090.05 L999.93,1089.86 L1000.57,1089.68 L1001.21,1089.48 L1001.86,1089.29 L1002.5,1089.1 L1003.14,1088.9 L1003.78,1088.7 L1004.42,1088.49 L1005.07,1088.29 L1005.71,1088.08 L1006.35,1087.87 L1006.99,1087.65 L1007.63,1087.43 L1008.28,1087.21 L1008.92,1086.99 L1009.56,1086.76 L1010.2,1086.53 L1010.84,1086.3 L1011.49,1086.06 L1012.13,1085.82 L1012.77,1085.58 L1013.41,1085.33 L1014.05,1085.08 L1014.7,1084.83 L1015.34,1084.57 L1015.98,1084.31 L1016.62,1084.05 L1017.26,1083.78 L1017.91,1083.51 L1018.55,1083.23 L1019.19,1082.95 L1019.83,1082.67 L1020.47,1082.38 L1021.12,1082.09 L1021.76,1081.8 L1022.4,1081.5 L1023.04,1081.2 L1023.68,1080.89 L1024.33,1080.58 L1024.97,1080.26 L1025.61,1079.94 L1026.25,1079.62 L1026.89,1079.29 L1027.54,1078.96 L1028.18,1078.62 L1028.82,1078.28 L1029.46,1077.93 L1030.1,1077.58 L1030.75,1077.22 L1031.39,1076.86 L1032.03,1076.5 L1032.67,1076.12 L1033.31,1075.75 L1033.96,1075.37 L1034.6,1074.98 L1035.24,1074.59 L1035.88,1074.19 L1036.52,1073.79 L1037.17,1073.38 L1037.81,1072.96 L1038.45,1072.54 L1039.09,1072.12 L1039.73,1071.68 L1040.38,1071.25 L1041.02,1070.8 L1041.66,1070.35 L1042.3,1069.9 L1042.94,1069.43 L1043.59,1068.97 L1044.23,1068.49 L1044.87,1068.01 L1045.51,1067.52 L1046.15,1067.03 L1046.8,1066.52 L1047.44,1066.02 L1048.08,1065.5 L1048.72,1064.98 L1049.36,1064.45 L1050.01,1063.91 L1050.65,1063.36 L1051.29,1062.81 L1051.93,1062.25 L1052.57,1061.69 L1053.22,1061.11 L1053.86,1060.53 L1054.5,1059.94 L1055.14,1059.34 L1055.78,1058.73 L1056.43,1058.11 L1057.07,1057.49 L1057.71,1056.86 L1058.35,1056.21 L1058.99,1055.56 L1059.64,1054.9 L1060.28,1054.23 L1060.92,1053.56 L1061.56,1052.87 L1062.2,1052.17 L1062.85,1051.47 L1063.49,1050.75 L1064.13,1050.03 L1064.77,1049.29 L1065.41,1048.54 L1066.06,1047.79 L1066.7,1047.02 L1067.34,1046.24 L1067.98,1045.46 L1068.62,1044.66 L1069.27,1043.85 L1069.91,1043.03 L1070.55,1042.2 L1071.19,1041.35 L1071.83,1040.5 L1072.48,1039.63 L1073.12,1038.75 L1073.76,1037.86 L1074.4,1036.96 L1075.04,1036.04 L1075.69,1035.11 L1076.33,1034.17 L1076.97,1033.22 L1077.61,1032.25 L1078.25,1031.27 L1078.9,1030.28 L1079.54,1029.27 L1080.18,1028.25 L1080.82,1027.22 L1081.46,1026.17 L1082.11,1025.1 L1082.75,1024.02 L1083.39,1022.93 L1084.03,1021.82 L1084.67,1020.7 L1085.32,1019.56 L1085.96,1018.4 L1086.6,1017.23 L1087.24,1016.05 L1087.88,1014.84 L1088.53,1013.62 L1089.17,1012.39 L1089.81,1011.13 L1090.45,1009.86 L1091.09,1008.57 L1091.74,1007.27 L1092.38,1005.94 L1093.02,1004.6 L1093.66,1003.24 L1094.3,1001.86 L1094.95,1000.46 L1095.59,999.05 L1096.23,997.61 L1096.87,996.15 L1097.51,994.68 L1098.16,993.18 L1098.8,991.66 L1099.44,990.12 L1100.08,988.56 L1100.72,986.98 L1101.37,985.38 L1102.01,983.75 L1102.65,982.11 L1103.29,980.44 L1103.93,978.74 L1104.58,977.03 L1105.22,975.29 L1105.86,973.52 L1106.5,971.73 L1107.14,969.92 L1107.79,968.08 L1108.43,966.22 L1109.07,964.33 L1109.71,962.42 L1110.35,960.48 L1111,958.51 L1111.64,956.51 L1112.28,954.49 L1112.92,952.44 L1113.56,950.36 L1114.21,948.26 L1114.85,946.12 L1115.49,943.96 L1116.13,941.76 L1116.77,939.54 L1117.42,937.28 L1118.06,934.99 L1118.7,932.67 L1119.34,930.32 L1119.98,927.94 L1120.63,925.53 L1121.27,923.08 L1121.91,920.6 L1122.55,918.08 L1123.19,915.53 L1123.84,912.94 L1124.48,910.32 L1125.12,907.66 L1125.76,904.97 L1126.4,902.24 L1127.05,899.47 L1127.69,896.66 L1128.33,893.82 L1128.97,890.93 L1129.61,888.01 L1130.26,885.04 L1130.9,882.04 L1131.54,878.99 L1132.18,875.9 L1132.82,872.77 L1133.47,869.6 L1134.11,866.38 L1134.75,863.11 L1135.39,859.81 L1136.03,856.46 L1136.68,853.06 L1137.32,849.61 L1137.96,846.12 L1138.6,842.58 L1139.24,838.99 L1139.89,835.35 L1140.53,831.66 L1141.17,827.92 L1141.81,824.13 L1142.45,820.28 L1143.1,816.39 L1143.74,812.44" fill="none" stroke="#e0700e" stroke-width="2.5" stroke-linejoin="round" stroke-linecap="butt" clip-path="url(#cF)" stroke-dasharray="14 12.4"/>
<line x1="1122.6" y1="875.5" x2="1122.6" y2="1126.8" stroke="#000" stroke-width="2.3" />
<rect x="974.7" y="875.5" width="353.1" height="251.3" fill="none" stroke="#333333" stroke-width="1.4"/>
<line x1="990.3" y1="1126.8" x2="990.3" y2="1133.3" stroke="#333333" stroke-width="1.4" />
<text x="990.3" y="1166.8" font-size="29.8" text-anchor="middle" fill="#000" >0</text>
<line x1="1150.8" y1="1126.8" x2="1150.8" y2="1133.3" stroke="#333333" stroke-width="1.4" />
<text x="1150.8" y="1166.8" font-size="29.8" text-anchor="middle" fill="#000" >500</text>
<line x1="1311.3" y1="1126.8" x2="1311.3" y2="1133.3" stroke="#333333" stroke-width="1.4" />
<text x="1311.3" y="1166.8" font-size="29.8" text-anchor="middle" fill="#000" >1000</text>
<line x1="968.2" y1="1103.5" x2="974.7" y2="1103.5" stroke="#333333" stroke-width="1.4" />
<text x="955.8" y="1113.3" font-size="29.8" text-anchor="end" fill="#000" >0</text>
<line x1="968.2" y1="989.2" x2="974.7" y2="989.2" stroke="#333333" stroke-width="1.4" />
<text x="955.8" y="999" font-size="29.8" text-anchor="end" fill="#000" >5</text>
<line x1="968.2" y1="874.9" x2="974.7" y2="874.9" stroke="#333333" stroke-width="1.4" />
<text x="955.8" y="884.7" font-size="29.8" text-anchor="end" fill="#000" >10</text>
<text x="1151.25" y="1210.2" font-size="29.5" text-anchor="middle" fill="#000" >Time (min)</text>
<text x="1069.6" y="922.2" font-size="29" text-anchor="middle" fill="#139494" >ORI</text>
<text x="1107" y="1076.3" font-size="29" text-anchor="middle" fill="#e0700e" font-style="italic" >V</text>
<path d="M1068.4,930.8 C1068.6,945 1058,952 1044,959.5" fill="none" stroke="#139494" stroke-width="3.2"/>
<path d="M1033.1,963.4 L1043.8,955 L1044.6,959.3 L1047.6,962.5 Z" fill="#139494"/>
<path d="M1093.4,1069.6 C1086,1071.2 1079,1071 1073.5,1067" fill="none" stroke="#e0700e" stroke-width="3.2"/>
<path d="M1064.8,1059.1 L1078.6,1064.7 L1074.5,1066.5 L1072.4,1070.3 Z" fill="#e0700e"/></svg>
</body></html>
